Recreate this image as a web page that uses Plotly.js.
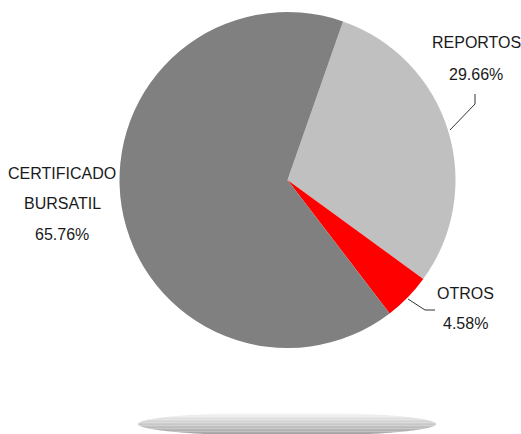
<!DOCTYPE html>
<html><head><meta charset="utf-8">
<script src="https://cdn.plot.ly/plotly-3.0.1.min.js"></script>
<style>html,body{margin:0;padding:0;background:#fff}</style>
</head><body>
<div id="chart" style="width:521px;height:434px"></div>
<script>
const categories = ["REPORTOS", "OTROS", "CERTIFICADO BURSATIL"];
const labelLines = [["REPORTOS"], ["OTROS"], ["CERTIFICADO", "BURSATIL"]];
const values = [29.66, 4.58, 65.76];
const colors = ["#c0c0c0", "#ff0000", "#808080"];

const W = 521, H = 434;
const px = x => x / W, py = y => 1 - y / H;

// label anchor positions (pixels, first line center) and line spacing
const labelPos = [[476, 42], [465, 293], [62, 173]];
const lineGaps = [32, 30, 30.5];
const FONT = {family: "'Liberation Sans', Arial, sans-serif", size: 16, color: "#1a1a1a"};

const annotations = [];
categories.forEach((c, i) => {
  const lines = labelLines[i].concat([values[i].toFixed(2) + "%"]);
  lines.forEach((t, j) => {
    annotations.push({
      text: t, showarrow: false, xref: "paper", yref: "paper",
      x: px(labelPos[i][0]), y: py(labelPos[i][1] + j * lineGaps[i]),
      xanchor: "center", yanchor: "middle", font: FONT
    });
  });
});

const shapes = [];
function polyline(pts) {
  return "M" + pts.map(p => px(p[0]) + "," + py(p[1])).join(" L");
}
// leader lines
shapes.push({type: "path", xref: "paper", yref: "paper", path: polyline([[475, 94], [475, 104], [450, 130]]), line: {color: "#333", width: 1}});
shapes.push({type: "path", xref: "paper", yref: "paper", path: polyline([[408, 299], [425, 310], [435, 310]]), line: {color: "#333", width: 1}});

// shadow ellipse with vertical gradient (bands)
const cx = 287, cy = 424, rx = 149, ry = 12, N = 16;
function xAt(y) { const t = (y - cy) / ry; return rx * Math.sqrt(Math.max(0, 1 - t * t)); }
for (let i = 0; i < N; i++) {
  const y0 = cy - ry + i * (2 * ry / N), y1 = y0 + 2 * ry / N;
  const pts = [];
  const steps = 4;
  for (let k = 0; k <= steps; k++) { const y = y0 + (y1 - y0) * k / steps; pts.push([cx + xAt(y), y]); }
  for (let k = steps; k >= 0; k--) { const y = y0 + (y1 - y0) * k / steps; pts.push([cx - xAt(y), y]); }
  const f = i / (N - 1);
  const g = Math.round(252 - Math.pow(f, 0.9) * 92);
  shapes.push({type: "path", xref: "paper", yref: "paper", layer: "below",
    path: polyline(pts) + " Z", fillcolor: `rgb(${g},${g},${g})`, line: {width: 0}});
}

const trace = {
  type: "pie", labels: categories, values: values, sort: false,
  direction: "clockwise", rotation: 19.3,
  marker: {colors: colors, line: {width: 0}},
  textinfo: "none", hoverinfo: "label+percent",
  domain: {x: [px(287.5 - 168), px(287.5 + 168)], y: [py(348), py(12)]}
};

Plotly.newPlot("chart", [trace], {
  width: W, height: H, margin: {l: 0, r: 0, t: 0, b: 0},
  showlegend: false, paper_bgcolor: "#fff",
  annotations: annotations, shapes: shapes
}, {displayModeBar: false, staticPlot: true});
</script>
</body></html>
